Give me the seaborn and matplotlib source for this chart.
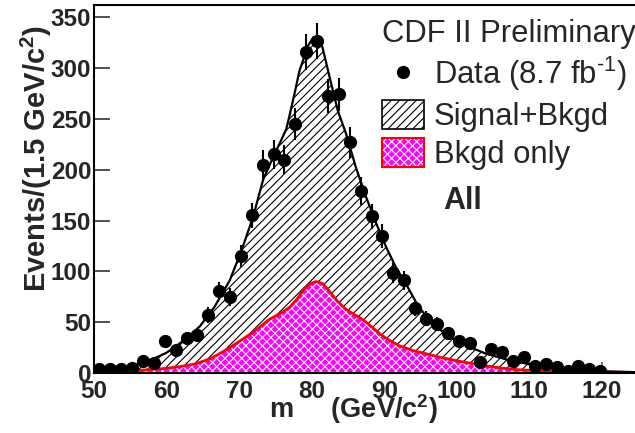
import numpy as np
import matplotlib
matplotlib.use("Agg")
import matplotlib.pyplot as plt
import seaborn as sns
from matplotlib.patches import Patch
from matplotlib.lines import Line2D

# ---------------- data ----------------
data_x = [50.75, 52.25, 53.75, 55.25, 56.75, 58.25, 59.75, 61.25, 62.75, 64.25,
          65.75, 67.25, 68.75, 70.25, 71.75, 73.25, 74.75, 76.25, 77.75, 79.25,
          80.75, 82.25, 83.75, 85.25, 86.75, 88.25, 89.75, 91.25, 92.75, 94.25,
          95.75, 97.25, 98.75, 100.25, 101.75, 103.25, 104.75, 106.25, 107.75, 109.25,
          110.75, 112.25, 113.75, 115.25, 116.75, 118.25, 119.75]
data_y = [3.5, 3.5, 4, 5, 11.5, 10, 31, 22.5, 34, 37.5,
          57, 81, 75, 115, 155, 205, 215, 210, 245, 316,
          326.5, 272.5, 274, 227, 179, 154, 135, 98.5, 91, 64,
          53.5, 48.5, 39, 31.5, 29.5, 11, 24, 21, 12, 16,
          7, 9, 5.5, 1.5, 7, 4, 1.5]

sig_x = [50.0, 52.0, 54.0, 55.5, 57.0, 58.5, 60.0, 61.8, 63.2, 64.6,
         66.6, 68.7, 70.3, 71.9, 73.3, 74.9, 75.6, 76.5, 77.0, 77.7,
         78.3, 79.5, 80.2, 80.85, 81.5, 82.5, 83.6, 84.75, 86.1, 87.5,
         88.9, 90.25, 91.6, 93.2, 94.5, 95.75, 97.6, 99.4, 101.3, 104.0,
         106.8, 110.4, 115.0, 119.6, 124.55]
sig_y = [1.5, 2.5, 4.5, 7, 11, 15, 20, 29, 37, 46,
         65, 91, 120, 153, 190, 216, 226, 240, 255, 277,
         297, 322, 330, 331, 320, 290, 258, 235, 202, 173,
         147, 124, 104, 85, 68, 56, 43, 34, 27, 19,
         13.4, 8, 3.8, 1.8, 0.8]

bkg_x = [50, 52, 54, 56, 58, 60, 62, 64, 66, 67.3,
         68.5, 70, 71.5, 72.8, 74, 75, 76, 77, 78, 79,
         80, 80.6, 81.5, 82.5, 83.5, 84.5, 85.5, 86.5, 87.5, 88.5,
         89.5, 90.5, 92, 94, 96, 98, 100, 102, 104, 106,
         108, 110, 112, 115, 118, 121, 124.55]
bkg_y = [0.5, 0.8, 1.1, 2.5, 3.5, 4.6, 6.5, 9, 14, 19,
         24, 31, 38, 45, 52, 56, 60, 65, 73, 83,
         88.5, 90, 88, 80, 71, 64, 59, 55, 50, 44,
         38, 33, 27, 22, 18.5, 15, 12, 9.5, 7, 5,
         3.5, 2.6, 2, 1.5, 1.1, 0.8, 0.6]

x_ticks = [50, 60, 70, 80, 90, 100, 110, 120]
y_ticks = [0, 50, 100, 150, 200, 250, 300, 350]

legend_title = "CDF II Preliminary"
legend_labels = [r"Data (8.7 fb$^{\text{-}1}$)", "Signal+Bkgd", "Bkgd only"]
x_label = r"m     (GeV/c$^\mathbf{2}$)"
y_label = r"Events/(1.5 GeV/c$^\mathbf{2}$)"
tag = "All"

# ---------------- style ----------------
sns.set_theme(style="ticks")
plt.rcParams["font.family"] = ["Liberation Sans", "DejaVu Sans"]
plt.rcParams["mathtext.fontset"] = "custom"
plt.rcParams["mathtext.rm"] = "Liberation Sans"
plt.rcParams["mathtext.it"] = "Liberation Sans:italic"
plt.rcParams["mathtext.bf"] = "Liberation Sans:bold"
plt.rcParams["hatch.linewidth"] = 0.8

MAG = "#ff00ff"

fig = plt.figure(figsize=(6.35, 4.33), dpi=100)
ax = fig.add_axes([94 / 635, 1 - 373 / 433, 541 / 635, 368 / 433])

ax.fill_between(sig_x, 0, sig_y, facecolor="white", edgecolor="black",
                hatch="////", linewidth=0, zorder=1)
ax.fill_between(bkg_x, 0, bkg_y, facecolor=MAG, edgecolor="white",
                hatch="xxxx", linewidth=0, zorder=1.5)
sns.lineplot(x=bkg_x, y=bkg_y, color="red", lw=2.0, ax=ax, zorder=2, sort=False)
sns.lineplot(x=sig_x, y=sig_y, color="black", lw=1.6, ax=ax, zorder=3, sort=False)
ax.errorbar(data_x, data_y, yerr=np.sqrt(data_y), fmt="o", color="black",
            ms=8.5, elinewidth=1.5, capsize=0, zorder=4)

ax.set_xlim(50, 124.55)
ax.set_ylim(0, 362)
ax.set_xticks(x_ticks)
ax.set_yticks(y_ticks)
ax.set_axisbelow(True)
ax.tick_params(axis="y", direction="in", length=11.5, width=1.2,
               color="#333333", pad=2, labelsize=17.5)
ax.tick_params(axis="x", direction="in", length=8, width=1.2,
               color="#555555", pad=5, labelsize=17.5)
for lab in ax.get_xticklabels() + ax.get_yticklabels():
    lab.set_fontweight("bold")
for s in ["left", "top", "bottom"]:
    ax.spines[s].set_linewidth(1.5)
    ax.spines[s].set_color("black")
ax.spines["right"].set_visible(False)

ax.set_xlabel(x_label, fontsize=19.5, fontweight="bold", ha="right", va="baseline")
ax.xaxis.set_label_coords((438 - 94) / 541, (373 - 418) / 368)
ax.set_ylabel(y_label, fontsize=21, fontweight="bold", ha="right", va="bottom")
ax.yaxis.set_label_coords(-40 / 541, (373 - 25) / 368)

h_data = Line2D([], [], marker="o", ls="none", color="black", ms=8.5)
h_sig = Patch(facecolor="white", edgecolor="black", hatch="////", lw=1.2)
h_bkg_fill = Patch(facecolor=MAG, edgecolor="white", hatch="xxxx", lw=0)
h_bkg_edge = Patch(facecolor="none", edgecolor="red", lw=1.5)
leg = ax.legend([h_data, h_sig, (h_bkg_fill, h_bkg_edge)], legend_labels,
                title=legend_title, title_fontsize=22.3, fontsize=22.3,
                loc="upper left", bbox_to_anchor=(382 / 635, 1 - 19 / 433),
                bbox_transform=fig.transFigure, frameon=False, borderpad=0,
                borderaxespad=0, handlelength=1.37, handleheight=1.08,
                handletextpad=0.3, labelspacing=0.2, alignment="left")

fig.text(463 / 635, 1 - 201 / 433, tag, ha="center", va="center",
         fontsize=22, fontweight="bold")

fig.savefig("out.png", dpi=100)
